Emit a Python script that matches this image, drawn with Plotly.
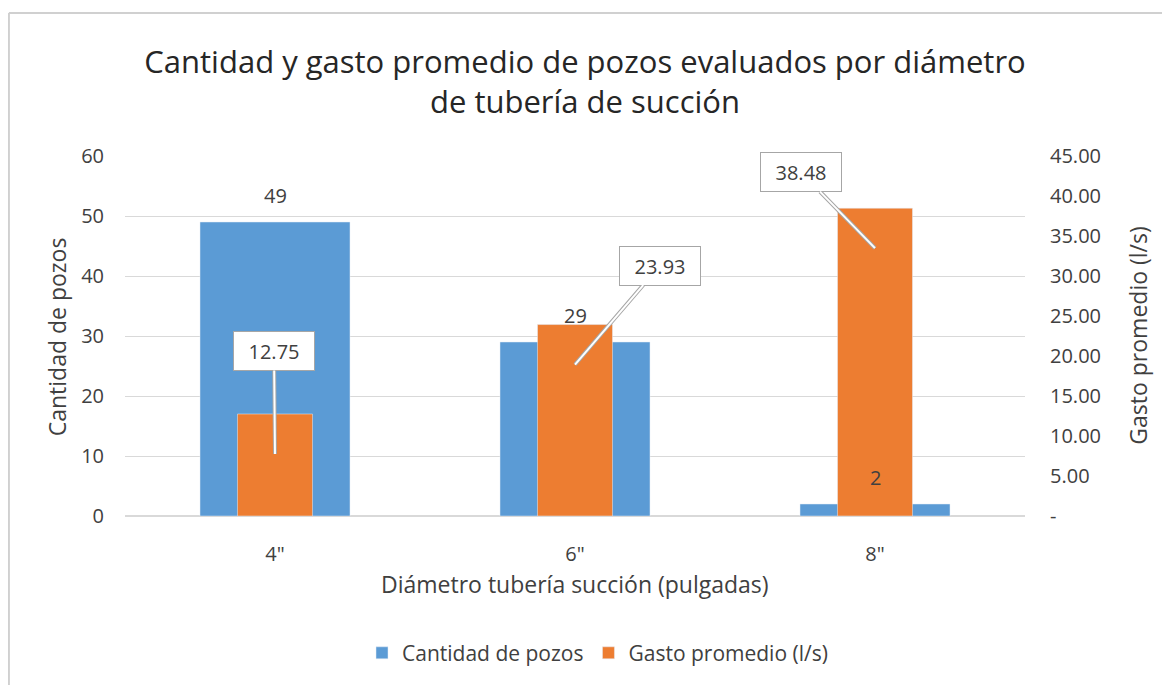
import plotly.graph_objects as go

# Data
diametros = ['4"', '6"', '8"']
cantidad_pozos = [49, 29, 2]
gasto_promedio = [12.75, 23.93, 38.48]

y2_tickvals = [0, 5, 10, 15, 20, 25, 30, 35, 40, 45]
y2_ticktext = ["-", "5.00", "10.00", "15.00", "20.00", "25.00", "30.00", "35.00", "40.00", "45.00"]

# callout box offsets (pixels, box centre relative to pointer tip)
callout_offsets = [(-1, -103), (85, -99), (-74, -76)]

BLUE = "#5B9BD5"
ORANGE = "#ED7D31"
GRID = "#D9D9D9"
TXT = "#404040"
FONT = "Open Sans"

fig = go.Figure()

fig.add_trace(go.Bar(
    x=diametros, y=cantidad_pozos, name="Cantidad de pozos",
    marker=dict(color=BLUE), width=0.5, yaxis="y",
))
fig.add_trace(go.Bar(
    x=diametros, y=gasto_promedio, name="Gasto promedio (l/s)",
    marker=dict(color=ORANGE), width=0.25, yaxis="y2",
))

# value labels for the blue bars (drawn above everything, like Excel)
for d, v in zip(diametros, cantidad_pozos):
    fig.add_annotation(
        x=d, y=v, xref="x", yref="y", text=str(v), showarrow=False,
        yshift=27, font=dict(family=FONT, size=20, color=TXT),
    )

# callout labels for the orange bars
for d, v, (ax, ay) in zip(diametros, gasto_promedio, callout_offsets):
    for color, w in (("#A6A6A6", 4), ("white", 2)):
        fig.add_annotation(
            x=d, y=v, xref="x", yref="y2", yshift=-40,
            text=f"{v:.2f}", showarrow=True, ax=ax, ay=ay,
            arrowhead=0, arrowcolor=color, arrowwidth=w,
            bgcolor="white", bordercolor="#A6A6A6", borderwidth=1,
            width=78, height=36,
            font=dict(family=FONT, size=20, color=TXT),
        )

# axis titles
fig.add_annotation(
    text="Diámetro tubería succión (pulgadas)", xref="paper", yref="paper",
    x=0.5, y=-0.189, xanchor="center", yanchor="middle", showarrow=False,
    font=dict(family=FONT, size=23, color=TXT),
)
fig.add_annotation(
    text="Cantidad de pozos", xref="paper", yref="paper", textangle=-90,
    x=-0.0756, y=0.499, xanchor="center", yanchor="middle", showarrow=False,
    font=dict(family=FONT, size=23, color=TXT),
)
fig.add_annotation(
    text="Gasto promedio (l/s)", xref="paper", yref="paper", textangle=-90,
    x=1.1256, y=0.501, xanchor="center", yanchor="middle", showarrow=False,
    font=dict(family=FONT, size=23, color=TXT),
)

# chart-area border (top and left edges visible in the reference)
fig.add_shape(type="line", xref="paper", yref="paper", x0=-0.129, x1=1.2,
              y0=1.397, y1=1.397, line=dict(color="#D0D0D0", width=2))
fig.add_shape(type="line", xref="paper", yref="paper", x0=-0.129, x1=-0.129,
              y0=1.397, y1=-0.5, line=dict(color="#D0D0D0", width=2))

fig.update_layout(
    width=1154, height=677,
    barmode="overlay",
    plot_bgcolor="white", paper_bgcolor="white",
    font=dict(family=FONT, size=20, color=TXT),
    title=dict(
        text="Cantidad y gasto promedio de pozos evaluados por diámetro<br>de tubería de succión",
        x=0.5, xanchor="center", xref="container",
        y=1 - 65 / 677, yanchor="middle", yref="container",
        font=dict(family=FONT, size=31, color="#262626"),
    ),
    margin=dict(l=117, r=137, t=148, b=159),
    xaxis=dict(
        showgrid=False, showline=False, ticks="", ticklabelstandoff=24,
        tickfont=dict(family=FONT, size=20, color=TXT),
    ),
    yaxis=dict(
        range=[0, 60], dtick=10, gridcolor=GRID, zeroline=True, zerolinecolor=GRID,
        showline=False, ticks="", ticklabelstandoff=20,
        tickfont=dict(family=FONT, size=20, color=TXT),
    ),
    yaxis2=dict(
        range=[0, 45], overlaying="y", side="right", showgrid=False,
        tickvals=y2_tickvals, ticktext=y2_ticktext, ticks="", ticklabelstandoff=24,
        tickfont=dict(family=FONT, size=20, color=TXT), zeroline=False,
    ),
    legend=dict(
        orientation="h", x=0.525, xanchor="center", y=-0.381, yanchor="middle",
        font=dict(family=FONT, size=21, color=TXT), itemwidth=30,
        traceorder="normal",
    ),
    showlegend=True,
)

fig.write_html("out.html")
